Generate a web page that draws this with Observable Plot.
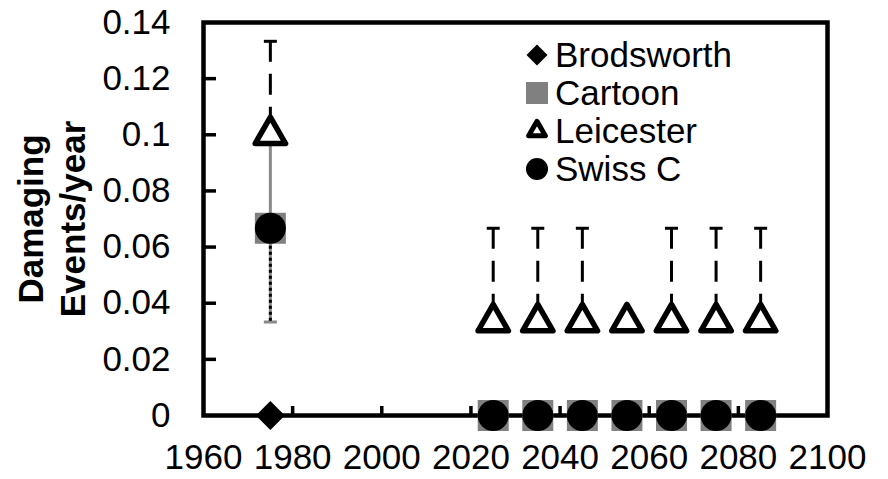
<!DOCTYPE html>
<html>
<head>
<meta charset="utf-8">
<script src="https://cdn.jsdelivr.net/npm/d3@7"></script>
<script src="https://cdn.jsdelivr.net/npm/@observablehq/plot@0.6"></script>
<style>
  body { margin: 0; background: #fff; }
  #wrap { position: relative; width: 888px; height: 479px; font-family: "Liberation Sans", Arial, sans-serif; }
  #legend { position: absolute; left: 523px; top: 36px; }
  .row { display: flex; align-items: center; height: 38px; font-size: 35px; line-height: 38px; color: #000; }
  .row svg { display: block; margin-right: 4px; }
</style>
</head>
<body>
<div id="wrap"><div id="legend"></div></div>
<script>
// ---- data ----
const seriesNames = ["Brodsworth", "Cartoon", "Leicester", "Swiss C"];

const brodsworthYears = [1975];
const brodsworthValues = [0];

const cartoonYears = [1975, 2025, 2035, 2045, 2055, 2065, 2075, 2085];
const cartoonValues = [0.0667, 0, 0, 0, 0, 0, 0, 0];
const cartoonLower = [0.0333, null, null, null, null, null, null, null];
const cartoonUpper = [0.1, null, null, null, null, null, null, null];

const leicesterYears = [1975, 2025, 2035, 2045, 2055, 2065, 2075, 2085];
const leicesterValues = [0.1, 0.0333, 0.0333, 0.0333, 0.0333, 0.0333, 0.0333, 0.0333];
const leicesterUpper = [0.1333, 0.0667, 0.0667, 0.0667, null, 0.0667, 0.0667, 0.0667];

const swissYears = [1975, 2025, 2035, 2045, 2055, 2065, 2075, 2085];
const swissValues = [0.0667, 0, 0, 0, 0, 0, 0, 0];
const swissLower = [0.0333, null, null, null, null, null, null, null];

const xTickLabels = [1960, 1980, 2000, 2020, 2040, 2060, 2080, 2100];
const xInnerTicks = [1980, 2000, 2020, 2040, 2060, 2080];
const yTickLabels = [0, 0.02, 0.04, 0.06, 0.08, 0.1, 0.12, 0.14];
const yInnerTicks = [0.02, 0.04, 0.06, 0.08, 0.1, 0.12];

// ---- tables ----
const brodsworth = brodsworthYears.map((x, i) => ({x, y: brodsworthValues[i]}));
const cartoon = cartoonYears.map((x, i) => ({x, y: cartoonValues[i], lo: cartoonLower[i], hi: cartoonUpper[i]}));
const leicester = leicesterYears.map((x, i) => ({x, y: leicesterValues[i], hi: leicesterUpper[i]}));
const swiss = swissYears.map((x, i) => ({x, y: swissValues[i], lo: swissLower[i]}));

const cartoonBars = cartoon.filter(d => d.lo != null);
const swissBars = swiss.filter(d => d.lo != null);
const leicesterBars = leicester.filter(d => d.hi != null);

const W = 888, H = 479, ML = 203, MR = 61, MT = 22, MB = 64;
const innerW = W - ML - MR, innerH = H - MT - MB;

const cap = {draw(ctx, size) { const w = Math.sqrt(size) / 2; ctx.moveTo(-w, 0); ctx.lineTo(w, 0); }};
const capR = Math.sqrt(169 / Math.PI);
const black = "#000", gray = "#808080";
const fontFamily = "'Liberation Sans', Arial, sans-serif";

const chart = Plot.plot({
  width: W,
  height: H,
  marginLeft: ML,
  marginRight: MR,
  marginTop: MT,
  marginBottom: MB,
  style: {fontFamily, background: "#fff", color: "#000", overflow: "visible"},
  x: {domain: [1960, 2100]},
  y: {domain: [0, 0.14]},
  marks: [
    Plot.axisX(xTickLabels, {tickSize: 0, tickPadding: 29, fontSize: 35, tickFormat: d => String(d), label: null}),
    Plot.axisY(yTickLabels, {tickSize: 0, tickPadding: 33, fontSize: 35, tickFormat: d => String(+d.toFixed(2)), label: null}),
    Plot.frame({stroke: black, strokeWidth: 4.5}),
    // inward tick marks
    Plot.tickX(xInnerTicks, {x: d => d, insetTop: innerH - 9, stroke: black, strokeWidth: 3.5}),
    Plot.tickY(yInnerTicks, {y: d => d, insetRight: innerW - 13, stroke: black, strokeWidth: 3.5}),
    Plot.text(["Damaging\nEvents/year"], {text: d => d, frameAnchor: "left", rotate: -90, dx: -153,
      fontSize: 35, fontWeight: "bold", lineHeight: 1.2, textAnchor: "middle", lineAnchor: "middle"}),
    // error bars
    Plot.ruleX(cartoonBars, {x: "x", y1: "lo", y2: "hi", stroke: "#8a8a8a", strokeWidth: 3}),
    Plot.dot(cartoonBars, {x: "x", y: "lo", symbol: cap, r: capR, stroke: "#8a8a8a", strokeWidth: 3}),
    Plot.ruleX(swissBars, {x: "x", y1: "y", y2: "lo", stroke: black, strokeWidth: 3, strokeDasharray: "3,3"}),
    Plot.ruleX(leicesterBars, {x: "x", y1: "hi", y2: "y", stroke: black, strokeWidth: 3, strokeDasharray: "21,12"}),
    Plot.dot(leicesterBars, {x: "x", y: "hi", symbol: cap, r: capR, stroke: black, strokeWidth: 3}),
    // markers
    Plot.dot(cartoon, {x: "x", y: "y", symbol: "square", r: Math.sqrt(961 / Math.PI), fill: gray}),
    Plot.dot(brodsworth, {x: "x", y: "y", symbol: "diamond2", r: Math.sqrt(536 / Math.PI), fill: black}),
    Plot.dot(leicester, {x: "x", y: "y", symbol: "triangle2", r: 14.5, fill: "#fff", stroke: black, strokeWidth: 5.5, strokeLinejoin: "round"}),
    Plot.dot(swiss, {x: "x", y: "y", symbol: "circle", r: 15.5, fill: black})
  ]
});
document.getElementById("wrap").prepend(chart);

// ---- legend ----
const legendSymbols = [
  {type: d3.symbolDiamond2, size: 281, fill: black, stroke: "none", sw: 0},
  {type: d3.symbolSquare, size: 484, fill: gray, stroke: "none", sw: 0},
  {type: d3.symbolTriangle2, size: 200, fill: "#fff", stroke: black, sw: 5},
  {type: d3.symbolCircle, size: Math.PI * 11 * 11, fill: black, stroke: "none", sw: 0}
];
const legend = d3.select("#legend");
seriesNames.forEach((name, i) => {
  const s = legendSymbols[i];
  const row = legend.append("div").attr("class", "row");
  const svg = row.append("svg").attr("width", 28).attr("height", 28).attr("viewBox", "-14 -14 28 28");
  svg.append("path").attr("d", d3.symbol(s.type, s.size)())
    .attr("fill", s.fill).attr("stroke", s.stroke).attr("stroke-width", s.sw).attr("stroke-linejoin", "round");
  row.append("span").text(name);
});
</script>
</body>
</html>
